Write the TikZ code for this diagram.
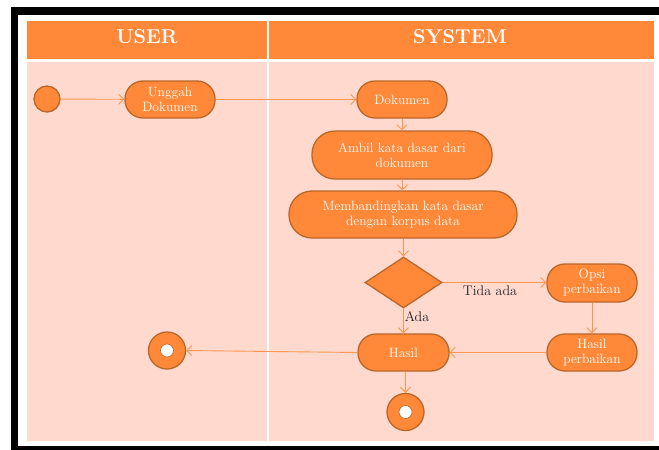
\documentclass[tikz,border=0pt]{standalone}
\usetikzlibrary{arrows.meta,shapes.geometric}
\definecolor{hdr}{RGB}{255,137,56}
\definecolor{lane}{RGB}{255,217,205}
\definecolor{nfill}{RGB}{255,137,56}
\definecolor{nbord}{RGB}{186,102,42}
\definecolor{arrc}{RGB}{250,150,80}
\definecolor{lbl}{RGB}{35,35,45}
\tikzset{
  act/.style={rectangle, rounded corners=18pt, fill=nfill, draw=nbord, line width=1.3pt,
    text=white, align=center, inner sep=0pt, minimum height=37pt,
    font=\fontsize{13.5}{15}\selectfont},
  startst/.style={circle, fill=nfill, draw=nbord, line width=1.3pt, minimum size=26pt, inner sep=0pt},
  endst/.style={circle, fill=nfill, draw=nbord, line width=1.3pt, minimum size=37pt, inner sep=0pt},
  endin/.style={circle, fill=white, draw=nbord, line width=0.6pt, minimum size=13pt, inner sep=0pt},
  decis/.style={diamond, fill=nfill, draw=nbord, line width=1.3pt, minimum width=77pt, minimum height=51pt, inner sep=0pt},
  arr/.style={draw=arrc, line width=0.9pt, -{Straight Barb[length=5pt,width=10pt]}},
  lbltext/.style={text=lbl, font=\fontsize{14}{15}\selectfont, inner sep=0pt},
  hdrtext/.style={text=white, font=\fontsize{20}{22}\selectfont\bfseries, inner sep=0pt}
}
\begin{document}
\begin{tikzpicture}[x=1pt,y=-1pt]
\useasboundingbox (0,0) rectangle (659,450);
% frame
\fill[black] (11,7) rectangle (659,15);
\fill[black] (11,7) rectangle (18,450);
\fill[black] (11,446) rectangle (659,450);
% header and lanes
\fill[hdr] (27,21) rectangle (654,59);
\fill[lane] (27,62) rectangle (654,441);
\draw[white, line width=1.5pt] (268,21) -- (268,441);
\node[hdrtext] (huser) at (147,37) {USER};
\node[hdrtext] (hsys) at (460,37) {SYSTEM};
% nodes
\node[startst] (start) at (47,99) {};
\node[act, minimum width=90pt] (unggah) at (170,99.5) {Unggah\\Dokumen};
\node[act, minimum width=90pt] (dok) at (402,99.5) {Dokumen};
\node[act, minimum width=180pt, minimum height=48pt, rounded corners=23pt] (ambil) at (402,155) {Ambil kata dasar dari\\dokumen};
\node[act, minimum width=228pt, minimum height=47pt, rounded corners=23pt] (banding) at (403,214.5) {Membandingkan kata dasar\\dengan korpus data};
\node[decis] (dec) at (403.5,282.5) {};
\node[act, minimum width=90pt, minimum height=38pt] (opsi) at (592,283) {Opsi\\perbaikan};
\node[act, minimum width=90pt] (hper) at (592,352.5) {Hasil\\perbaikan};
\node[act, minimum width=91pt] (hasil) at (403.5,352.5) {Hasil};
\node[endst] (endb) at (405.5,412) {};
\node[endin] (endbin) at (endb) {};
\node[endst] (endl) at (167,350.5) {};
\node[endin] (endlin) at (endl) {};
% connectors
\draw[arr] (start) -- (unggah);
\draw[arr] (unggah) -- (dok);
\draw[arr] (dok) -- (ambil);
\draw[arr] (ambil) -- (banding);
\draw[arr] (banding.south -| dec.north) -- (dec.north);
\draw[arr] (dec.east) -- (dec.east -| opsi.west);
\draw[arr] (dec.south) -- (dec.south |- hasil.north);
\draw[arr] (opsi) -- (hper);
\draw[arr] (hper) -- (hasil);
\draw[arr] (hasil.west) -- (endl.east);
\draw[arr] (hasil.south -| endb.north) -- (endb.north);
% labels
\node[lbltext] (ltida) at (490,291) {Tida ada};
\node[lbltext] (lada) at (417,317) {Ada};
\end{tikzpicture}
\end{document}
